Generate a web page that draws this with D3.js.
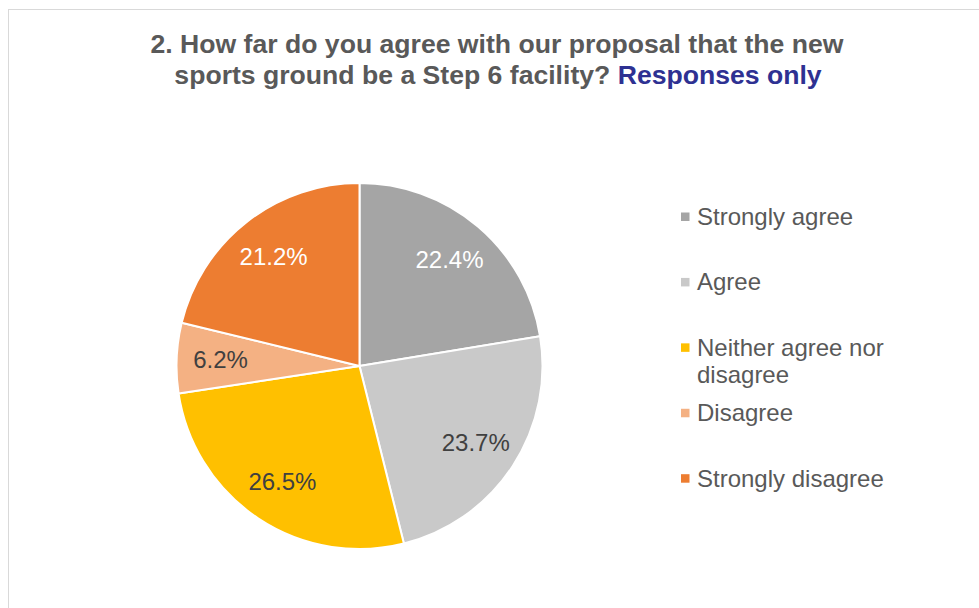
<!DOCTYPE html>
<html>
<head>
<meta charset="utf-8">
<script src="https://cdn.jsdelivr.net/npm/d3@7"></script>
<style>
  html, body { margin: 0; padding: 0; background: #ffffff; }
  svg { display: block; font-family: "Liberation Sans", Arial, sans-serif; }
</style>
</head>
<body>
<svg id="chart" width="979" height="608"></svg>
<script>
// Survey answers, in the order the slices run clockwise from 12 o'clock
const categories = ["Strongly agree", "Agree", "Neither agree nor disagree", "Disagree", "Strongly disagree"];
const legendLines = [["Strongly agree"], ["Agree"], ["Neither agree nor", "disagree"], ["Disagree"], ["Strongly disagree"]];
const shares = [22.4, 23.7, 26.5, 6.2, 21.2];
const sliceColors = ["#A5A5A5", "#C9C9C9", "#FFC000", "#F4B183", "#ED7D31"];
const labelColors = ["#FFFFFF", "#404040", "#404040", "#404040", "#FFFFFF"];
const titleMain = ["2. How far do you agree with our proposal that the new", "sports ground be a Step 6 facility? "];
const titleAccent = "Responses only";

const svg = d3.select("#chart");
const W = 979, H = 608;

// chart frame (runs off the right and bottom edges)
svg.append("rect")
  .attr("x", 8.5).attr("y", 9.5)
  .attr("width", W + 20).attr("height", H + 20)
  .attr("fill", "#ffffff")
  .attr("stroke", "#D9D9D9").attr("stroke-width", 1);

// title
const title = svg.append("text")
  .attr("text-anchor", "middle")
  .attr("font-size", 26.6)
  .attr("font-weight", "bold")
  .attr("fill", "#595959");
title.append("tspan").attr("x", 497).attr("y", 53).text(titleMain[0]);
const line2 = title.append("tspan").attr("x", 498).attr("y", 83.5);
line2.append("tspan").text(titleMain[1]);
line2.append("tspan").attr("fill", "#2E3192").text(titleAccent);

// pie
const cx = 359.5, cy = 366, R = 183;
const pie = d3.pie().sort(null).value(d => d).startAngle(0).endAngle(2 * Math.PI);
const arcs = pie(shares);
const arc = d3.arc().innerRadius(0).outerRadius(R);
const labelArc = d3.arc().innerRadius(R * 0.76).outerRadius(R * 0.76);

const g = svg.append("g").attr("transform", `translate(${cx},${cy})`);
g.selectAll("path.slice")
  .data(arcs)
  .join("path")
  .attr("class", "slice")
  .attr("d", arc)
  .attr("fill", (d, i) => sliceColors[i])
  .attr("stroke", "#ffffff")
  .attr("stroke-width", 2)
  .attr("stroke-linejoin", "round");

g.selectAll("text.value")
  .data(arcs)
  .join("text")
  .attr("class", "value")
  .attr("transform", d => `translate(${labelArc.centroid(d)})`)
  .attr("text-anchor", "middle")
  .attr("dy", "0.35em")
  .attr("font-size", 24)
  .attr("fill", (d, i) => labelColors[i])
  .text(d => d.data.toFixed(1) + "%");

// legend
const ly = d3.scalePoint().domain(categories).range([225, 486.7]);
const legend = svg.append("g");
const rows = legend.selectAll("g.row")
  .data(categories)
  .join("g")
  .attr("class", "row")
  .attr("transform", d => `translate(0,${ly(d)})`);

rows.append("rect")
  .attr("x", 681).attr("y", -12.5)
  .attr("width", 8.5).attr("height", 8.5)
  .attr("fill", (d, i) => sliceColors[i]);

rows.append("text")
  .attr("font-size", 24)
  .attr("fill", "#595959")
  .each(function (d, i) {
    const t = d3.select(this);
    legendLines[i].forEach((ln, k) => {
      t.append("tspan").attr("x", 697).attr("y", k * 26.7).text(ln);
    });
  });
</script>
</body>
</html>
